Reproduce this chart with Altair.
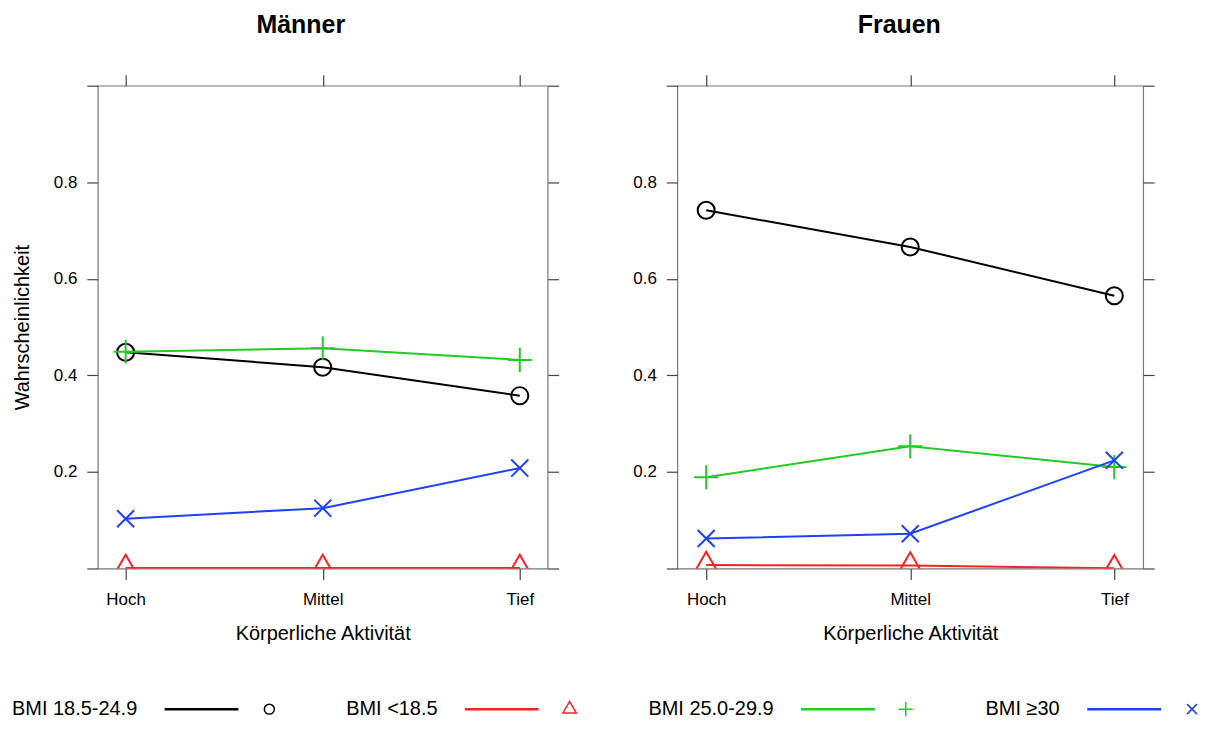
import altair as alt
import pandas as pd

FONT = "Liberation Sans"

activity = ["Hoch", "Mittel", "Tief"]
series = ["BMI 18.5-24.9", "BMI <18.5", "BMI 25.0-29.9", "BMI ≥30"]
colors = ["#000000", "#ff2020", "#22cc22", "#2040ff"]

# Männer
maenner_normal = [0.448, 0.417, 0.358]
maenner_under = [0.001, 0.001, 0.001]
maenner_over = [0.449, 0.456, 0.432]
maenner_obese = [0.103, 0.125, 0.208]

# Frauen
frauen_normal = [0.742, 0.666, 0.565]
frauen_under = [0.007, 0.006, 0.0005]
frauen_over = [0.189, 0.253, 0.210]
frauen_obese = [0.062, 0.072, 0.224]

y_ticks = [0, 0.2, 0.4, 0.6, 0.8, 1.0]

# symbol shapes (R-like pch 1, 2, 3, 4)
shapes = [
    "circle",
    "M0,-1.555L1.347,0.778L-1.347,0.778Z",
    "M-1.414,0H1.414M0,-1.414V1.414",
    "M-1,-1L1,1M-1,1L1,-1",
]


def long_df(values_by_series):
    rows = []
    for s, vals in zip(series, values_by_series):
        for a, v in zip(activity, vals):
            rows.append({"series": s, "activity": a, "value": v})
    return pd.DataFrame(rows)


df_m = long_df([maenner_normal, maenner_under, maenner_over, maenner_obese])
df_f = long_df([frauen_normal, frauen_under, frauen_over, frauen_obese])

label_expr = "datum.value > 0.05 && datum.value < 0.95 ? format(datum.value, '.1f') : ''"


def panel(data, title, width, dx, ytitle):
    base = alt.Chart(data)
    xs = alt.Scale(type="point", domain=activity, padding=0.1414)
    ys = alt.Scale(domain=[0, 1], nice=False, zero=False)
    col = alt.Color("series:N", scale=alt.Scale(domain=series, range=colors), legend=None)
    lines = base.mark_line(strokeWidth=2, clip=True).encode(
        x=alt.X("activity:N", scale=xs,
                axis=alt.Axis(orient="bottom", title="Körperliche Aktivität", labelAngle=0,
                              labelPadding=12, titlePadding=16)),
        y=alt.Y("value:Q", scale=ys,
                axis=alt.Axis(orient="left", values=y_ticks, labelExpr=label_expr,
                              title=ytitle, titlePadding=21, labelFlush=False)),
        color=col,
    )
    pts = base.mark_point(filled=False, strokeWidth=2, size=292, clip=True, opacity=1).encode(
        x=alt.X("activity:N", scale=xs,
                axis=alt.Axis(orient="top", labels=False, title=None)),
        y=alt.Y("value:Q", scale=ys,
                axis=alt.Axis(orient="right", values=y_ticks, labels=False, title=None)),
        color=col,
        shape=alt.Shape("series:N", scale=alt.Scale(domain=series, range=shapes), legend=None),
    )
    return (
        alt.layer(lines, pts, view=alt.ViewBackground(stroke="#777777", strokeWidth=1.2))
        .resolve_axis(x="independent", y="independent")
        .properties(
            width=width,
            height=484,
            title=alt.TitleParams(title, fontSize=25, fontWeight="bold", color="black",
                                  anchor="middle", frame="group", offset=36, dx=dx),
        )
    )


left = panel(df_m, "Männer", 451, -22, "Wahrscheinlichkeit")
right = panel(df_f, "Frauen", 467, -11, None)

# legend: label, line, symbol (first label pulled left under the y-axis area)
items = []
for i, (s, c, sh) in enumerate(zip(series, colors, shapes)):
    one = pd.DataFrame({"label": [s]})
    txt = (
        alt.Chart(one)
        .mark_text(align="left", baseline="middle", fontSize=20, color="black")
        .encode(x=alt.value(-86 if i == 0 else 0), y=alt.value(10), text="label:N")
        .properties(width=1, height=20)
    )
    ln = alt.Chart(one).mark_rule(strokeWidth=2.5, color=c).encode(
        x=alt.value(0), x2=alt.value(74), y=alt.value(10))
    pt = alt.Chart(one).mark_point(shape=sh, filled=False, color=c, size=100,
                                   strokeWidth=1.5, opacity=1).encode(
        x=alt.value(105), y=alt.value(10))
    ls = alt.layer(ln, pt).properties(width=111, height=20)
    items.append(alt.hconcat(txt, ls, spacing=25))
legend = alt.hconcat(*items, spacing=69)

chart = (
    alt.vconcat(alt.hconcat(left, right, spacing=71), legend, spacing=54)
    .properties(padding={"left": 3, "top": 3, "right": 3, "bottom": 0})
    .configure(font=FONT)
    .configure_view(stroke=None)
    .configure_axis(
        domain=False, grid=False, ticks=True, tickColor="#444444", tickSize=11,
        tickWidth=1.2, labelFontSize=17, labelColor="black", labelPadding=10,
        titleFontSize=20, titleColor="black", titleFontWeight="normal",
    )
)

chart.save("out.html", embed_options={"renderer": "svg", "actions": False})
